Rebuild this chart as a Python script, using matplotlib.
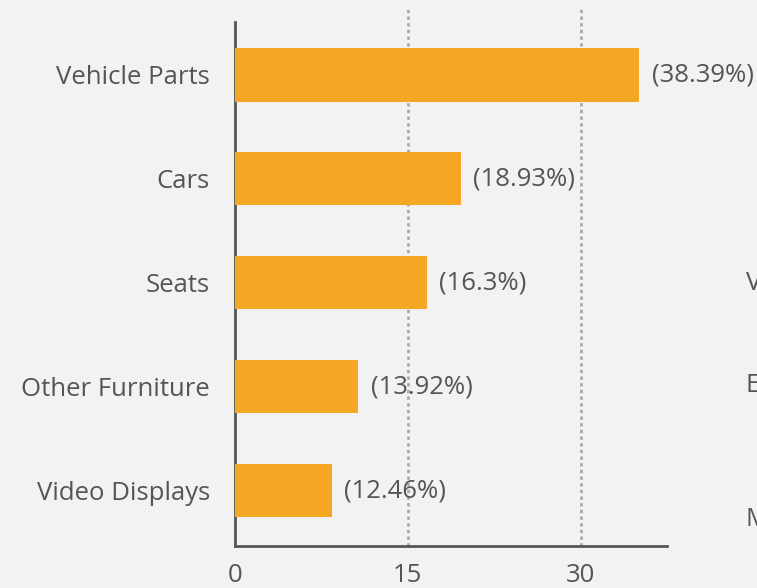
import matplotlib.pyplot as plt
import numpy as np

# data (top to bottom as in the picture)
categories = ["Vehicle Parts", "Cars", "Seats", "Other Furniture", "Video Displays"]
values = [35.1, 19.6, 16.65, 10.7, 8.4]
shares = ["(38.39%)", "(18.93%)", "(16.3%)", "(13.92%)", "(12.46%)"]
xticks = [0, 15, 30]
side_letters = ["V", "E", "M"]

bg = "#F1F2F1"
bar_color = "#F5A623"
text_color = "#555555"
fs = 18.5

plt.rcParams['font.family'] = ['Open Sans', 'DejaVu Sans']

fig = plt.figure(figsize=(7.57, 5.88), dpi=100, facecolor=bg)
ax = fig.add_axes([235 / 757, 42 / 588, 432 / 757, 539 / 588])
ax.set_facecolor(bg)

ypos = np.arange(len(categories))[::-1]
ax.barh(ypos, values, height=0.51, color=bar_color, zorder=3)

for y, v, s in zip(ypos, values, shares):
    ax.annotate(s, (v, y), xytext=(9, 0), textcoords="offset points",
                va="center", ha="left", fontsize=fs, color=text_color, zorder=4)

ax.set_xlim(0, 37.5)
ax.set_ylim(-0.53, 4.654)

for xv in xticks[1:]:
    ax.axvline(xv, color="#AAAAAA", linestyle=(0, (1.2, 1.2)), linewidth=2, zorder=1)

ax.set_xticks(xticks)
ax.set_xticklabels([str(t) for t in xticks])
ax.set_yticks(ypos)
ax.set_yticklabels(categories)
ax.tick_params(axis="x", length=0, pad=12, labelsize=fs, colors=text_color)
ax.tick_params(axis="y", length=0, pad=18, labelsize=fs, colors=text_color)

for side in ["top", "right"]:
    ax.spines[side].set_visible(False)
for side in ["left", "bottom"]:
    ax.spines[side].set_color("#555555")
    ax.spines[side].set_linewidth(2)
ax.spines["left"].set_bounds(-0.53, 4.51)

# text of the neighbouring element, cut by the right edge as in the reference
for letter, yy in zip(side_letters, [283, 385, 520]):
    fig.text(746 / 757, 1 - yy / 588, letter, fontsize=fs, color=text_color,
             ha="left", va="center")

fig.savefig("out.png", dpi=100, facecolor=bg)
